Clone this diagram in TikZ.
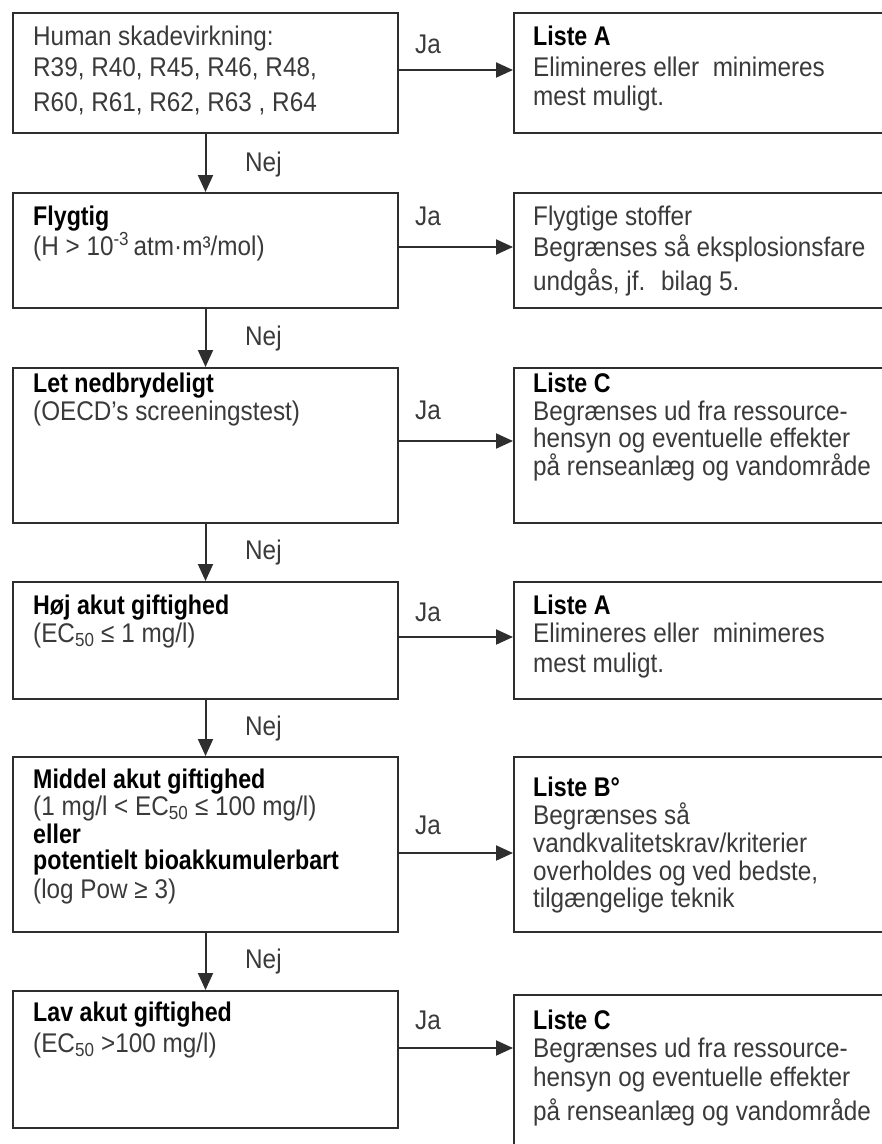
\documentclass[tikz,border=0pt]{standalone}
\usepackage{fontspec}
\setmainfont{Liberation Sans}[FakeStretch=0.9, BoldFeatures={FakeStretch=0.86}]
\usetikzlibrary{arrows.meta}
\definecolor{linec}{HTML}{2E2E2E}
\definecolor{txtc}{HTML}{3A3A3A}
\begin{document}
\begin{tikzpicture}[x=1pt,y=-1pt,
  box/.style={draw=linec, line width=2pt, inner sep=0pt, anchor=north west, minimum width=385pt},
  rbox/.style={box, minimum width=420pt},
  txt/.style={anchor=base west, inner sep=0pt, text=txtc, font=\fontsize{27}{30}\selectfont},
  hd/.style={txt, text=black, font=\fontsize{27}{30}\selectfont\bfseries},
  lbl/.style={txt},
  arr/.style={draw=linec, line width=2pt, -{Triangle[length=17pt,width=15pt]}}]
\useasboundingbox (0,0) rectangle (882,1144);
\clip (0,0) rectangle (882,1144);
% boxes
\node[box, minimum height=120pt] (L1) at (12,12) {};
\node[rbox, minimum height=120pt] (R1) at (513,12) {};
\node[box, minimum height=115pt] (L2) at (12,192) {};
\node[rbox, minimum height=115pt] (R2) at (513,192) {};
\node[box, minimum height=155pt] (L3) at (12,367) {};
\node[rbox, minimum height=155pt] (R3) at (513,367) {};
\node[box, minimum height=117pt] (L4) at (12,581) {};
\node[rbox, minimum height=117pt] (R4) at (513,581) {};
\node[box, minimum height=175pt] (L5) at (12,756) {};
\node[rbox, minimum height=175pt] (R5) at (513,756) {};
\node[box, minimum height=137pt] (L6) at (12,990) {};
\node[rbox, minimum height=200pt] (R6) at (513,994) {};
% row 1
\node[txt] (l1a) at (33,45) {Human skadevirkning:};
\node[txt] (l1b) at (33,76) {R39, R40, R45, R46, R48,};
\node[txt] (l1c) at (33,111) {R60, R61, R62, R63 , R64};
\node[hd] (r1a) at (533,45) {Liste A};
\node[txt] (r1b) at (533,76) {Elimineres eller~ minimeres};
\node[txt] (r1c) at (533,105) {mest muligt.};
% row 2
\node[hd] (l2a) at (33,225) {Flygtig};
\node[txt] (l2b) at (33,255) {(H > 10\textsuperscript{-3}\,atm·m³/mol)};
\node[txt] (r2a) at (533,225) {Flygtige stoffer};
\node[txt] (r2b) at (533,256) {Begrænses så eksplosionsfare};
\node[txt] (r2c) at (533,290) {undgås, jf.~ bilag 5.};
% row 3
\node[hd] (l3a) at (33,392) {Let nedbrydeligt};
\node[txt] (l3b) at (33,420) {(OECD's screeningstest)};
\node[hd] (r3a) at (533,392) {Liste C};
\node[txt] (r3b) at (533,420) {Begrænses ud fra ressource-};
\node[txt] (r3c) at (533,447) {hensyn og eventuelle effekter};
\node[txt] (r3d) at (533,475) {på renseanlæg og vandområde};
% row 4
\node[hd] (l4a) at (33,614) {Høj akut giftighed};
\node[txt] (l4b) at (33,642) {(EC\textsubscript{50} ≤ 1 mg/l)};
\node[hd] (r4a) at (533,614) {Liste A};
\node[txt] (r4b) at (533,642) {Elimineres eller~ minimeres};
\node[txt] (r4c) at (533,672) {mest muligt.};
% row 5
\node[hd] (l5a) at (33,788) {Middel akut giftighed};
\node[txt] (l5b) at (33,815) {(1 mg/l < EC\textsubscript{50} ≤ 100 mg/l)};
\node[hd] (l5c) at (33,843) {eller};
\node[hd] (l5d) at (33,869) {potentielt bioakkumulerbart};
\node[txt] (l5e) at (33,898) {(log Pow ≥ 3)};
\node[hd] (r5a) at (533,796) {Liste B°};
\node[txt] (r5b) at (533,824) {Begrænses så};
\node[txt] (r5c) at (533,852) {vandkvalitetskrav/kriterier};
\node[txt] (r5d) at (533,880) {overholdes og ved bedste,};
\node[txt] (r5e) at (533,907) {tilgængelige teknik};
% row 6
\node[hd] (l6a) at (33,1021) {Lav akut giftighed};
\node[txt] (l6b) at (33,1052) {(EC\textsubscript{50} >100 mg/l)};
\node[hd] (r6a) at (533,1029) {Liste C};
\node[txt] (r6b) at (533,1057) {Begrænses ud fra ressource-};
\node[txt] (r6c) at (533,1086) {hensyn og eventuelle effekter};
\node[txt] (r6d) at (533,1120) {på renseanlæg og vandområde};
% Ja labels
\node[lbl] (ja1) at (415,53) {Ja};
\node[lbl] (ja2) at (415,225) {Ja};
\node[lbl] (ja3) at (415,419) {Ja};
\node[lbl] (ja4) at (415,621) {Ja};
\node[lbl] (ja5) at (415,834) {Ja};
\node[lbl] (ja6) at (415,1029) {Ja};
% Nej labels
\node[lbl] (nej1) at (245,171) {Nej};
\node[lbl] (nej2) at (245,345) {Nej};
\node[lbl] (nej3) at (245,559) {Nej};
\node[lbl] (nej4) at (245,735) {Nej};
\node[lbl] (nej5) at (245,968) {Nej};
% arrow heights
\coordinate (y1) at (0,70);
\coordinate (y2) at (0,247);
\coordinate (y3) at (0,441);
\coordinate (y4) at (0,637);
\coordinate (y5) at (0,853);
\coordinate (y6) at (0,1048);
% Ja connectors
\draw[arr] (L1.east |- y1) -- (R1.west |- y1);
\draw[arr] (L2.east |- y2) -- (R2.west |- y2);
\draw[arr] (L3.east |- y3) -- (R3.west |- y3);
\draw[arr] (L4.east |- y4) -- (R4.west |- y4);
\draw[arr] (L5.east |- y5) -- (R5.west |- y5);
\draw[arr] (L6.east |- y6) -- (R6.west |- y6);
% Nej connectors
\draw[arr] (L1.south) -- (L2.north);
\draw[arr] (L2.south) -- (L3.north);
\draw[arr] (L3.south) -- (L4.north);
\draw[arr] (L4.south) -- (L5.north);
\draw[arr] (L5.south) -- (L6.north);
\end{tikzpicture}
\end{document}
